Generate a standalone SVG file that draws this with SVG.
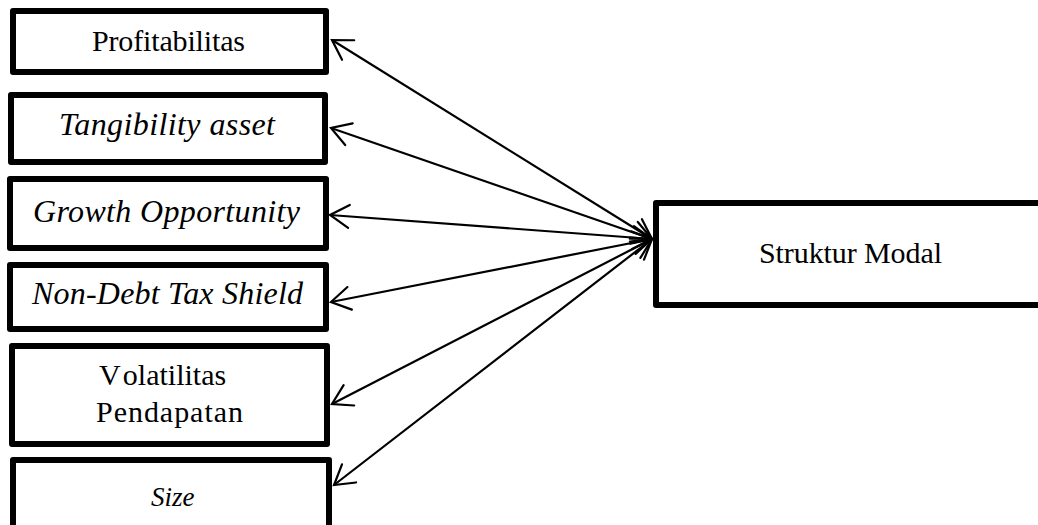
<svg xmlns="http://www.w3.org/2000/svg" width="1038" height="525" viewBox="0 0 1038 525">
<style>
.box{fill:#fff;stroke:#000;stroke-width:6;stroke-linejoin:round}
.t{font-family:"Liberation Serif","Times New Roman",serif;font-size:30px;fill:#000}
.i{font-style:italic;font-size:32px}
.c{fill:none;stroke:#000;stroke-width:2.2;marker-start:url(#ah);marker-end:url(#ah)}
</style>
<defs>
<marker id="ah" markerUnits="userSpaceOnUse" markerWidth="30" markerHeight="30" viewBox="-25 -15 30 30" refX="0" refY="0" orient="auto-start-reverse" overflow="visible">
<path d="M-19,-11.5 L0,0 L-19,11.5" fill="none" stroke="#000" stroke-width="2.2" stroke-linecap="round" stroke-linejoin="miter"/>
</marker>
</defs>
<rect width="1038" height="525" fill="#fff"/>
<g id="n1"><rect class="box" x="13" y="11" width="313" height="61"/><text class="t" x="92" y="51" textLength="153" lengthAdjust="spacing">Profitabilitas</text></g>
<g id="n2"><rect class="box" x="11" y="95" width="314" height="67"/><text class="t i" x="59" y="135" textLength="216" lengthAdjust="spacing">Tangibility asset</text></g>
<g id="n3"><rect class="box" x="10" y="179" width="316" height="69"/><text class="t i" x="33" y="222" textLength="267" lengthAdjust="spacing">Growth Opportunity</text></g>
<g id="n4"><rect class="box" x="10" y="265" width="316" height="64"/><text class="t i" x="32" y="304" textLength="271" lengthAdjust="spacing">Non-Debt Tax Shield</text></g>
<g id="n5"><rect class="box" x="12" y="346" width="315" height="98"/><text class="t" x="99" y="385">V<tspan dx="6">olatilitas</tspan></text><text class="t" x="96" y="422" textLength="147" lengthAdjust="spacing">Pendapatan</text></g>
<g id="n6"><rect class="box" x="13" y="460" width="316" height="80"/><text class="t i" x="151" y="506" style="font-size:27px">Size</text></g>
<g id="n7"><rect class="box" x="656" y="203" width="400" height="102"/><text class="t" x="759" y="263" textLength="183" lengthAdjust="spacing">Struktur Modal</text></g>
<g id="connectors">
<line class="c" x1="652" y1="239" x2="332" y2="40"/>
<line class="c" x1="652" y1="239" x2="331" y2="128"/>
<line class="c" x1="652" y1="239" x2="330" y2="215"/>
<line class="c" x1="652" y1="239" x2="331" y2="302"/>
<line class="c" x1="652" y1="239" x2="332" y2="404"/>
<line class="c" x1="652" y1="239" x2="334" y2="485"/>
</g>
</svg>
